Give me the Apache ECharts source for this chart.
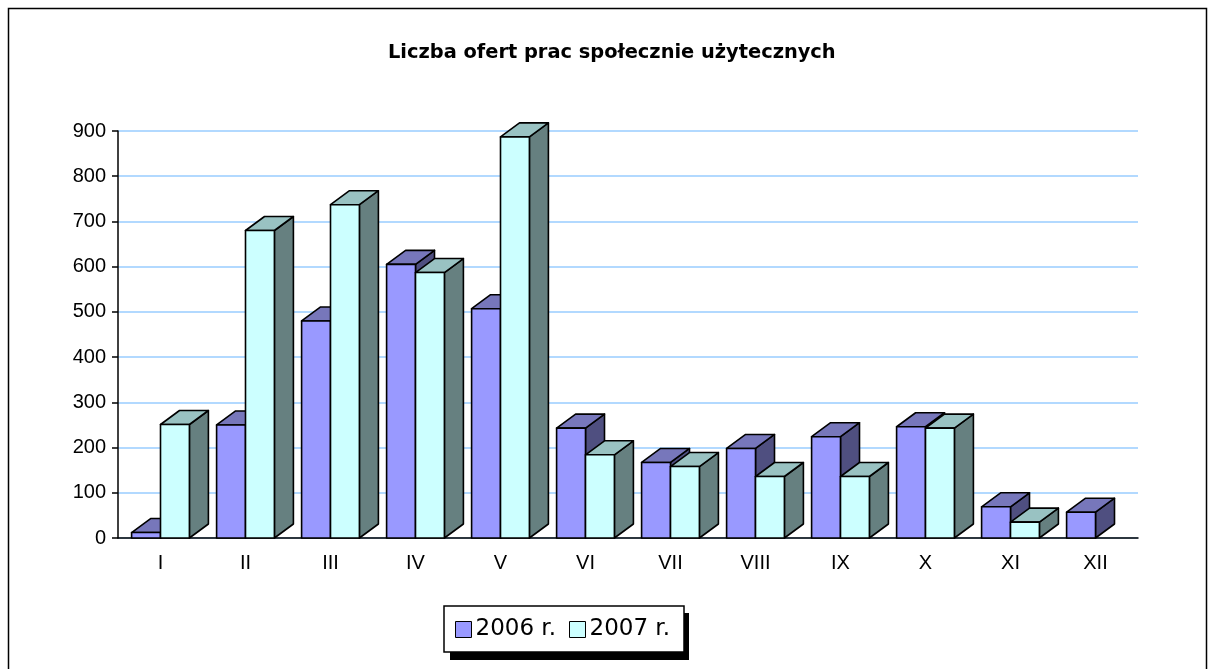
<!DOCTYPE html>
<html>
<head>
<meta charset="utf-8">
<script src="https://cdn.jsdelivr.net/npm/echarts@6/dist/echarts.min.js"></script>
<style>
  html, body { margin: 0; padding: 0; background: #fff; }
  #main { width: 1209px; height: 669px; }
</style>
</head>
<body>
<div id="main"></div>
<script>
// dane z wykresu
var months = ['I', 'II', 'III', 'IV', 'V', 'VI', 'VII', 'VIII', 'IX', 'X', 'XI', 'XII'];
var y2006 = [12, 250, 480, 605, 507, 243, 167, 198, 224, 246, 69, 57];
var y2007 = [251, 680, 737, 587, 887, 184, 158, 136, 136, 243, 35, null];
var seriesNames = ['2006 r.', '2007 r.'];

var myChart = echarts.init(document.getElementById('main'));

// slupek "3D": przod, gora, bok
function bar3d(pos, front, top, side) {
  return function (params, api) {
    var v = api.value(1);
    if (v == null || isNaN(v)) return;
    var base = api.coord([api.value(0), 0]);
    var tip = api.coord([api.value(0), v]);
    var cw = api.size([1, 0])[0];
    var w = cw * 0.34;
    var dx = 19, dy = 14;
    var x0 = pos === 0 ? base[0] - w : base[0];
    var x1 = x0 + w;
    var yb = base[1], yt = tip[1];
    var st = { stroke: '#000', lineWidth: 1.6, lineJoin: 'round' };
    return {
      type: 'group',
      children: [
        { type: 'polygon', shape: { points: [[x1, yb], [x1 + dx, yb - dy], [x1 + dx, yt - dy], [x1, yt]] },
          style: Object.assign({ fill: side }, st) },
        { type: 'polygon', shape: { points: [[x0, yt], [x0 + dx, yt - dy], [x1 + dx, yt - dy], [x1, yt]] },
          style: Object.assign({ fill: top }, st) },
        { type: 'rect', shape: { x: x0, y: yt, width: w, height: yb - yt },
          style: Object.assign({ fill: front }, st) }
      ]
    };
  };
}

function toData(arr) {
  return arr.map(function (v, i) { return [i, v]; });
}

var option = {
  backgroundColor: '#fff',
  animation: false,
  textStyle: { fontFamily: 'Liberation Sans, Arial, sans-serif' },
  title: {
    text: 'Liczba ofert prac społecznie użytecznych',
    left: 388,
    top: 43,
    padding: 0,
    textStyle: { fontSize: 19.4, fontWeight: 'bold', color: '#000', fontFamily: 'DejaVu Sans' }
  },
  graphic: [
    {
      type: 'rect',
      shape: { x: 8.5, y: 8.5, width: 1198, height: 700 },
      style: { fill: 'none', stroke: '#000', lineWidth: 1.5 },
      silent: true
    },
    {
      // cien legendy
      type: 'rect',
      z: 1,
      shape: { x: 450, y: 613, width: 239, height: 47 },
      style: { fill: '#000' },
      silent: true
    }
  ],
  legend: {
    data: seriesNames,
    left: 444,
    top: 606,
    z: 5,
    orient: 'horizontal',
    padding: [12, 14, 11, 11],
    itemGap: 13,
    itemWidth: 16,
    itemHeight: 16,
    icon: 'rect',
    backgroundColor: '#fff',
    borderColor: '#000',
    borderWidth: 1.5,
    itemStyle: { borderColor: '#000', borderWidth: 1 },
    textStyle: { fontSize: 23, color: '#000', fontFamily: 'DejaVu Sans', padding: [0, 0, 0, -1] }
  },
  grid: { left: 118, right: 71, top: 131, bottom: 131 },
  xAxis: {
    type: 'category',
    data: months,
    axisLine: { lineStyle: { color: '#000', width: 1.5 } },
    axisTick: { length: 7, lineStyle: { color: '#000', width: 1.5 } },
    axisLabel: { fontSize: 20, color: '#000', margin: 15 }
  },
  yAxis: {
    type: 'value',
    min: 0,
    max: 900,
    interval: 100,
    axisLine: { show: true, lineStyle: { color: '#000', width: 1.5 } },
    axisTick: { show: true, length: 6, lineStyle: { color: '#000', width: 1.5 } },
    axisLabel: { fontSize: 20, color: '#000', margin: 12 },
    splitLine: { lineStyle: { color: '#99CCFF', width: 1.5 } }
  },
  series: [
    {
      name: seriesNames[0],
      type: 'custom',
      renderItem: bar3d(0, '#9999FF', '#7777BB', '#4F4F80'),
      encode: { x: 0, y: 1 },
      itemStyle: { color: '#9999FF' },
      data: toData(y2006),
      z: 3
    },
    {
      name: seriesNames[1],
      type: 'custom',
      renderItem: bar3d(1, '#CCFFFF', '#99C2C2', '#668080'),
      encode: { x: 0, y: 1 },
      itemStyle: { color: '#CCFFFF' },
      data: toData(y2007),
      z: 4
    }
  ]
};

myChart.setOption(option);
</script>
</body>
</html>
